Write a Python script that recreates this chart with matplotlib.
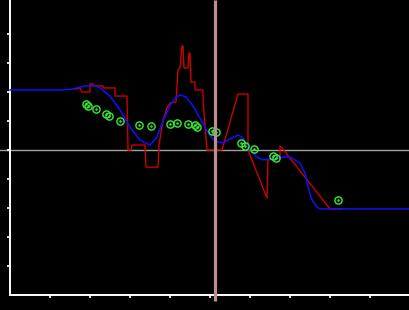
import matplotlib
matplotlib.use("Agg")
import matplotlib.pyplot as plt

# Blue smooth curve
blue_x = [0, 1.25, 1.55, 1.875, 2.125, 2.25, 2.5, 2.75, 3.0, 3.25, 3.5, 3.675, 3.825,
          4.0, 4.125, 4.25, 4.4, 4.575, 4.75, 4.925, 5.05, 5.175, 5.325, 5.5, 5.7,
          5.825, 6.0, 6.175, 6.325, 6.5, 6.875, 7.0, 7.25, 7.375, 7.45, 7.55, 7.675,
          7.75, 10.0]
blue_y = [2.07, 2.07, 2.10, 2.21, 2.21, 2.14, 1.86, 1.38, 0.79, 0.34, 0.17, 0.45, 1.0,
          1.52, 1.79, 1.90, 1.83, 1.52, 1.10, 0.66, 0.41, 0.28, 0.24, 0.38, 0.52,
          0.41, 0.0, -0.24, -0.34, -0.31, -0.24, -0.24, -0.45, -0.79, -1.28, -1.72, -1.97,
          -2.03, -2.03]

# Red jagged line
red_x = [1.625, 1.75, 1.8, 2.0, 2.0, 2.075, 2.075, 2.325, 2.325, 2.625, 2.625, 2.925,
         2.95, 3.025, 3.05, 3.375, 3.4, 3.7, 3.725, 3.825, 3.925, 4.0, 4.15, 4.2, 4.25,
         4.3, 4.325, 4.35, 4.45, 4.475, 4.5, 4.525, 4.625, 4.625, 4.825, 4.825, 4.925,
         5.3, 5.7, 5.95, 5.95, 6.425, 6.45, 6.75, 6.75, 6.8, 8.0, 8.3]
red_y = [2.10, 2.14, 2.0, 2.0, 2.28, 2.28, 2.21, 2.21, 2.14, 2.14, 1.86, 1.86,
         0.0, 0.0, 0.17, 0.17, -0.59, -0.59, 0.17, 1.03, 1.45, 1.62, 1.66, 2.76, 2.83,
         3.59, 3.59, 2.83, 2.83, 3.34, 3.34, 2.34, 2.34, 2.07, 2.07, 1.72, 0.0,
         0.0, 1.93, 1.93, 0.0, -1.66, -0.34, -0.28, 0.14, 0.07, -2.03, -2.03]

# Green observations
pts_x = [1.9, 1.95, 2.15, 2.4, 2.475, 2.75, 3.225, 3.525, 4.0, 4.175, 4.45, 4.625,
         4.675, 5.05, 5.15, 5.775, 5.875, 6.1, 6.575, 6.65, 8.2]
pts_y = [1.59, 1.52, 1.41, 1.24, 1.17, 1.0, 0.86, 0.83, 0.90, 0.93, 0.90, 0.86,
         0.79, 0.66, 0.62, 0.24, 0.14, 0.03, -0.21, -0.28, -1.72]

marker_x = 5.125
xticks = [1, 2, 3, 4, 5, 6, 7, 8, 9]
yticks = [-4, -3, -2, -1, 0, 1, 2, 3, 4]

fig = plt.figure(figsize=(4.1, 3.1), dpi=100, facecolor="black")
ax = fig.add_axes([0, 0, 1, 1], facecolor="black")
ymax, ymin = 150 / 29, -160 / 29
ax.set_xlim(-0.25, 10)
ax.set_ylim(ymin, ymax)

ax.axhline(0, color="#a0a0a0", lw=1.0, zorder=1)
ax.plot(red_x, red_y, color="#cc0000", lw=1.0, zorder=2)
ax.plot(blue_x, blue_y, color="#1010ff", lw=1.1, zorder=3)
ax.plot(pts_x, pts_y, linestyle="none", marker="o", markersize=5.2,
        markerfacecolor="none", markeredgecolor="#33ee33", markeredgewidth=1.0, zorder=4)
ax.plot(pts_x, pts_y, linestyle="none", marker=".", markersize=1.6,
        color="#33ee33", zorder=4)
ax.plot([marker_x, marker_x], [ymax, -5.2], color="#bc8f8f", lw=2.3,
        solid_capstyle="butt", clip_on=False, zorder=6)

for s in ["top", "right"]:
    ax.spines[s].set_visible(False)
ax.spines["left"].set_position(("data", 0))
ax.spines["bottom"].set_position(("data", -5))
ax.spines["left"].set_bounds(-5, ymax)
ax.spines["bottom"].set_bounds(0, 10)
for s in ["left", "bottom"]:
    ax.spines[s].set_color("white")
    ax.spines[s].set_linewidth(1.4)
ax.set_xticks(xticks)
ax.set_yticks(yticks)
ax.tick_params(colors="white", direction="out", length=2.3, width=1.2,
               labelleft=False, labelbottom=False)

fig.savefig("out.png", dpi=100, facecolor="black")
